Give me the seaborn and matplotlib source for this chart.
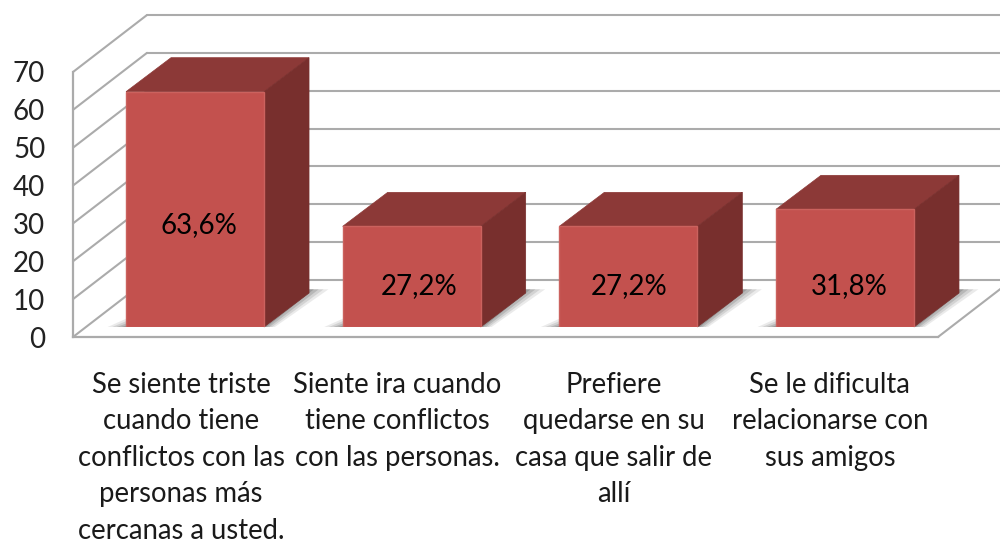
import numpy as np
import pandas as pd
import seaborn as sns
import matplotlib.pyplot as plt
from matplotlib.patches import Polygon

sns.set_theme(style="white")
plt.rcParams['font.family'] = ['Lato', 'DejaVu Sans']

#data
categorias = ["Se siente triste\ncuando tiene\nconflictos con las\npersonas más\ncercanas a usted.",
              "Siente ira cuando\ntiene conflictos\ncon las personas.",
              "Prefiere\nquedarse en su\ncasa que salir de\nallí",
              "Se le dificulta\nrelacionarse con\nsus amigos"]
valores = [63.6, 27.2, 27.2, 31.8]
ticks_y = [0, 10, 20, 30, 40, 50, 60, 70]

#where the value labels sit on the bars (moved by hand in the original)
label_y = [27.6, 11.2, 11.2, 11.2]
label_dx = [0.02, 0.035, 0.005, 0.02]

W, H = 1000, 544
GRIS = '#ABABAB'
FRENTE = '#C3514E'
ARRIBA = '#8C3937'
LADO = '#782F2D'
df = pd.DataFrame({'cat': categorias, 'val': valores})

fig = plt.figure(figsize=(W / 100, H / 100), dpi=100)

#wall axes: the front plane of the 3d box
ax = fig.add_axes([73 / W, (H - 337) / H, 865 / W, 265 / H])
ax.set_xlim(-0.5, 3.5)
ax.set_ylim(0, 70)
ax.set_xticks(range(4))
ax.set_xticklabels(categorias, fontsize=19.8, color='#1a1a1a', linespacing=1.5)
ax.set_yticks(ticks_y)
ax.set_yticklabels([str(t) for t in ticks_y], fontsize=20, color='#222222')
ax.tick_params(axis='both', length=0)
ax.tick_params(axis='x', pad=25)
ax.tick_params(axis='y', pad=20)
for s in ['top', 'right']:
    ax.spines[s].set_visible(False)
for s in ['left', 'bottom']:
    ax.spines[s].set_color(GRIS)
    ax.spines[s].set_linewidth(1.6)

#depth of the box in data units
px_x = 865 / 4
px_y = 265 / 70
fx = 74 / px_x
fy = 57 / px_y
for t in ticks_y:
    ax.plot([-0.5, -0.5 + fx], [t, t + fy], color=GRIS, lw=1.5, clip_on=False)
    ax.plot([-0.5 + fx, 3.5 + fx], [t + fy, t + fy], color=GRIS, lw=1.5, clip_on=False)
ax.plot([3.5, 3.5 + fx], [0, fy], color=GRIS, lw=1.5, clip_on=False)

#bar axes: the plane the bars stand on, a bit behind the front
ax2 = fig.add_axes([86.7 / W, (H - 327) / H, 866.6 / W, 259 / H])
ax2.patch.set_alpha(0)
sns.barplot(data=df, x='cat', y='val', color=FRENTE, saturation=1, width=0.637,
            edgecolor='#CB625E', linewidth=1, ax=ax2, zorder=3)
ax2.set_xlim(-0.5, 3.5)
ax2.set_ylim(0, 70)
ax2.axis('off')

bx = 45 / 216.65
by = 34 / 3.7
for p, v, ly, ldx in zip(ax2.patches, valores, label_y, label_dx):
    x0 = p.get_x()
    x1 = x0 + p.get_width()
    h = p.get_height()
    #shadow on the floor
    for k, a in zip([1.0, 0.75, 0.5, 0.25], [0.12, 0.16, 0.22, 0.3]):
        sombra = [(x0 - 0.085 * k, 0), (x0 + 0.02, by * 0.3 * k), (x0 + 0.02, by * 0.3),
                  (x1 + bx, by + 1.0), (x1 + bx + 0.09 * k, by + 1.0), (x1 + 0.05 * k, 0)]
        ax2.add_patch(Polygon(sombra, closed=True, fc='#5a5a5a', ec='none', alpha=a,
                              zorder=1, clip_on=False))
    #top and side of the bar
    ax2.add_patch(Polygon([(x0, h), (x1, h), (x1 + bx, h + by), (x0 + bx, h + by)],
                          closed=True, fc=ARRIBA, ec=ARRIBA, lw=0.5, zorder=2, clip_on=False))
    ax2.add_patch(Polygon([(x1, 0), (x1 + bx, by), (x1 + bx, h + by), (x1, h)],
                          closed=True, fc=LADO, ec=LADO, lw=0.5, zorder=2, clip_on=False))
    ax2.text(x0 + p.get_width() / 2 + ldx, ly, f"{v:.1f}%".replace('.', ','),
             ha='center', va='center', fontsize=20, color='black', zorder=5)

fig.savefig("out.png", dpi=100)
